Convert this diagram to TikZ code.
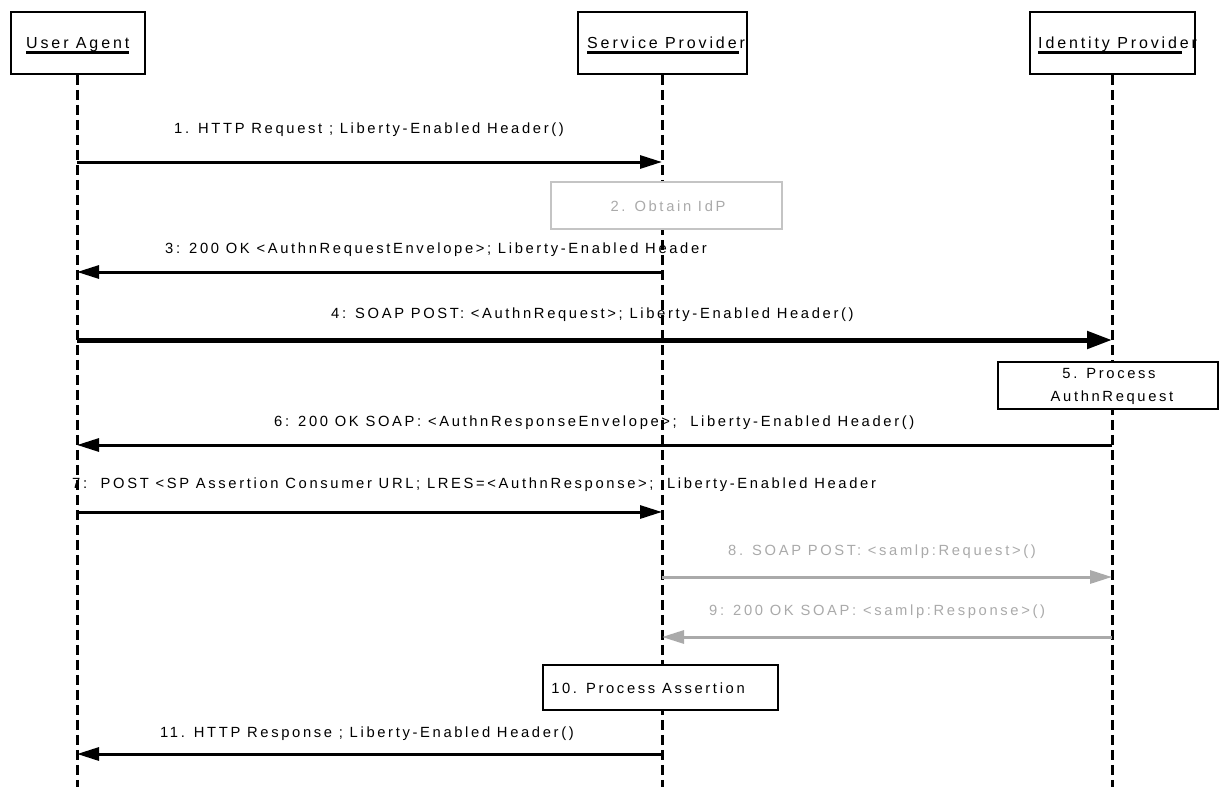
\documentclass[tikz,border=0pt]{standalone}
\usepackage{fontspec}
\setmainfont{Liberation Sans}[LetterSpace=18]
\usetikzlibrary{arrows.meta}
\definecolor{gr}{HTML}{AAAAAA}
\definecolor{grb}{HTML}{C4C4C4}
\newcommand{\lblfont}{\fontsize{14.75pt}{17pt}\selectfont}
\newcommand{\hdrfont}{\fontsize{16pt}{19pt}\selectfont}
\tikzset{
  lbl/.style={font=\lblfont, inner sep=0pt, anchor=base west},
  ctr/.style={font=\lblfont, inner sep=0pt, anchor=base},
  htxt/.style={font=\hdrfont, inner sep=0pt, anchor=base west},
  hdr/.style={draw, line width=1.5pt, fill=white, minimum height=62pt, inner sep=0pt},
  life/.style={line width=3pt, dash pattern=on 10pt off 5pt},
  msg/.style={line width=3pt, -{Triangle[length=22pt,width=13pt]}},
  bigmsg/.style={line width=5pt, -{Triangle[length=25pt,width=17pt]}},
  gmsg/.style={line width=3pt, draw=gr, -{Triangle[length=22pt,width=13pt]}},
  actbox/.style={draw, line width=1.5pt, fill=white, inner sep=0pt},
  uline/.style={line width=3pt},
}
\begin{document}
\begin{tikzpicture}[x=1pt,y=-1pt]
\useasboundingbox[fill=white] (0,0) rectangle (1219,787);
% header boxes
\node[hdr, minimum width=134pt] (ua) at (78,43) {};
\node[hdr, minimum width=169pt] (sp) at (662.5,43) {};
\node[hdr, minimum width=165pt] (idp) at (1112.5,43) {};
\node[htxt] (uat) at (26,48) {User Agent};
\node[htxt] (spt) at (587,48) {Service Provider};
\node[htxt] (idpt) at (1038,48) {Identity Provider};
\draw[uline] ([yshift=-4.5pt]uat.base west) -- ([yshift=-4.5pt]uat.base east);
\draw[uline] ([yshift=-4.5pt]spt.base west) -- ([yshift=-4.5pt,xshift=-6pt]spt.base east);
\draw[uline] ([yshift=-4.5pt]idpt.base west) -- ([yshift=-4.5pt,xshift=-15pt]idpt.base east);
% lifelines
\coordinate (uaend) at (77,787);
\coordinate (spend) at (662,787);
\coordinate (idpend) at (1112,787);
\draw[life] (ua.south -| uaend) -- (uaend);
\draw[life] (sp.south -| spend) -- (spend);
\draw[life] (idp.south -| idpend) -- (idpend);
% activation boxes
\node[actbox, draw=grb, minimum width=231pt, minimum height=47pt] (b2) at (666.5,205.5) {};
\node[ctr, text=gr] (b2t) at (668,211) {2. Obtain IdP};
\node[actbox, minimum width=220pt, minimum height=47pt] (b5) at (1108,385.5) {};
\node[ctr] (b5a) at (1109,378) {5. Process};
\node[ctr] (b5b) at (1112,401) {AuthnRequest};
\node[actbox, minimum width=235pt, minimum height=45pt] (b10) at (660.5,687.5) {};
\node[ctr] (b10t) at (648,693) {10. Process Assertion};
% message anchor points
\coordinate (u1) at (uaend |- 0,162);  \coordinate (s1) at (spend |- 0,162);
\coordinate (u3) at (uaend |- 0,272);  \coordinate (s3) at (spend |- 0,272);
\coordinate (u4) at (uaend |- 0,340);  \coordinate (i4) at (idpend |- 0,340);
\coordinate (u6) at (uaend |- 0,445);  \coordinate (i6) at (idpend |- 0,445);
\coordinate (u7) at (uaend |- 0,512);  \coordinate (s7) at (spend |- 0,512);
\coordinate (s8) at (spend |- 0,577);  \coordinate (i8) at (idpend |- 0,577);
\coordinate (s9) at (spend |- 0,637);  \coordinate (i9) at (idpend |- 0,637);
\coordinate (u11) at (uaend |- 0,754); \coordinate (s11) at (spend |- 0,754);
% messages
\draw[msg] (u1) -- (s1);
\node[lbl] (l1) at (174,133) {1. HTTP Request ; Liberty-Enabled Header()};
\draw[msg] (s3) -- (u3);
\node[lbl] (l3) at (165,253) {3: 200 OK <AuthnRequestEnvelope>; Liberty-Enabled Header};
\draw[bigmsg] (u4) -- (i4);
\node[lbl] (l4) at (331,318) {4: SOAP POST: <AuthnRequest>; Liberty-Enabled Header()};
\draw[msg] (i6) -- (u6);
\node[lbl] (l6) at (274,426) {6: 200 OK SOAP: <AuthnResponseEnvelope>;\ \ Liberty-Enabled Header()};
\draw[msg] (u7) -- (s7);
\node[lbl] (l7) at (72,488) {7:\ \ POST <SP Assertion Consumer URL; LRES=<AuthnResponse>;\ \ Liberty-Enabled Header};
\draw[gmsg] (s8) -- (i8);
\node[lbl, text=gr] (l8) at (728,555) {8. SOAP POST: <samlp:Request>()};
\draw[gmsg] (i9) -- (s9);
\node[lbl, text=gr] (l9) at (709,615) {9: 200 OK SOAP: <samlp:Response>()};
\draw[msg] (s11) -- (u11);
\node[lbl] (l11) at (160,737) {11. HTTP Response ; Liberty-Enabled Header()};
\end{tikzpicture}
\end{document}
